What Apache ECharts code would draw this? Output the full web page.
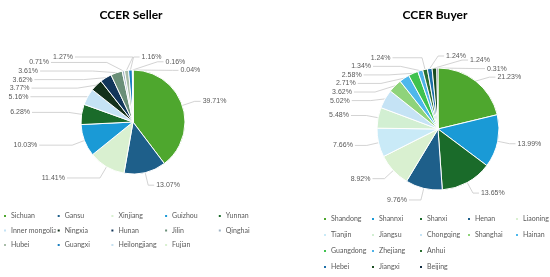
<!DOCTYPE html>
<html><head><meta charset="utf-8">
<script src="https://cdn.jsdelivr.net/npm/echarts@6/dist/echarts.min.js"></script>
<style>html,body{margin:0;padding:0;background:#fff}#c{width:550px;height:277px}</style>
</head><body><div id="c"></div>
<script>
var sellerNames = ['Sichuan','Gansu','Xinjiang','Guizhou','Yunnan','Inner mongolia','Ningxia','Hunan','Jilin','Qinghai','Hubei','Guangxi','Heilongjiang','Fujian'];
var sellerValues = [39.71,13.07,11.41,10.03,6.28,5.16,3.77,3.62,3.61,0.71,1.27,1.16,0.16,0.04];
var sellerColors = ['#4ea72e','#1e5f8a','#d9f0d0','#1a9ad6','#1a6b2a','#c5e3f5','#13301a','#12365a','#6a8f78','#9fb3c4','#a9bda9','#1a7fc0','#c5e0f0','#d9f0d0'];
var buyerNames = ['Shandong','Shannxi','Shanxi','Henan','Liaoning','Tianjin','Jiangsu','Chongqing','Shanghai','Hainan','Guangdong','Zhejiang','Anhui','Hebei','Jiangxi','Beijing'];
var buyerValues = [21.23,13.99,13.65,9.76,8.92,7.66,5.48,5.02,3.62,2.71,2.58,1.34,1.24,1.24,1.24,0.31];
var buyerColors = ['#4ea72e','#1a9ad6','#1a6b2a','#1e5f8a','#d9f0d0','#c9eaf7','#d2efd2','#c5e3f5','#8fd37a','#4db8ec','#3fc24f','#4fb3e8','#2a6f30','#1d6fa8','#1a4d20','#0f2a40'];
var sellerLegendCols = 5;
var buyerRows = [[0,5],[5,10],[10,13],[13,16]];

var FONT = 'Lato';
var LABEL_FONT = 'Liberation Sans';
var SELLER = {center:[133,122], r:52, off:13, Lleft:33, Lup:25, Lright:6};
var BUYER = {center:[438,129], r:61, off:12, Lleft:12, Lup:18, Lright:6};

function fmt(v){ return v.toFixed(2)+'%'; }
// Excel-like outside label placement: anchor just beyond the rim at each slice's mid angle,
// overlapping labels pushed apart around the rim until their boxes no longer overlap.
function layoutLabels(values, cfg){
  var ctx = document.createElement('canvas').getContext('2d');
  ctx.font = '7px "' + LABEL_FONT + '"';
  var cx = cfg.center[0], cy = cfg.center[1], r = cfg.r, R = r + cfg.off, H = 8.5, GAP = 2, TWO = 2*Math.PI;
  var total = values.reduce(function(a,b){return a+b;},0), cum = 0;
  var items = values.map(function(v,i){
    var th = (cum + v/2)/total*TWO; cum += v;
    return {i:i, th:th, phi:th, w:ctx.measureText(fmt(v)).width};
  });
  function geo(it){
    var s = Math.sin(it.phi), c = Math.cos(it.phi);
    var px = cx + R*s, py = cy - R*c;
    var right = ((it.phi % TWO) + TWO) % TWO < Math.PI;
    var ex = right ? px + cfg.Lright : px - cfg.Lleft - cfg.Lup*Math.max(0, c);
    var x0 = right ? ex + GAP : ex - GAP - it.w;
    return {px:px, py:py, ex:ex, right:right, x0:x0, x1:x0 + it.w, y0:py - H/2, y1:py + H/2};
  }
  function ov(a,b){ return a.x0 < b.x1 + 4 && b.x0 < a.x1 + 4 && a.y0 < b.y1 && b.y0 < a.y1; }
  var sorted = items.slice().sort(function(a,b){return a.th - b.th;});
  for (var iter = 0; iter < 4000; iter++){
    var moved = false;
    for (var k = 0; k < sorted.length; k++){
      for (var m = k + 1; m < sorted.length; m++){
        var a = sorted[k], b = sorted[m];
        if (ov(geo(a), geo(b))){
          var dir = (b.th - a.th > Math.PI) ? -1 : 1;
          a.phi -= 0.002*dir; b.phi += 0.002*dir; moved = true;
        }
      }
    }
    if (!moved) break;
  }
  return items.map(function(it){
    var g = geo(it);
    var ex0 = cx + r*Math.sin(it.th), ey0 = cy - r*Math.cos(it.th);
    return {x: g.right ? g.ex + GAP : g.ex - GAP, y: g.py, align: g.right ? 'left' : 'right',
      pts: [[ex0, ey0], [g.px, g.py], [g.ex, g.py]]};
  });
}
var labelPos = [layoutLabels(sellerValues, SELLER), layoutLabels(buyerValues, BUYER)];

function mkData(names, values, colors){
  return names.map(function(n,i){ return {name:n, value:values[i], itemStyle:{color:colors[i]}}; });
}
function legendItem(name, left, top){
  return {left:left, top:top, itemWidth:4, itemHeight:4, icon:'rect', padding:0, data:[name],
    textStyle:{fontFamily:FONT, fontSize:7, color:'#595959', padding:[0,0,0,-1], overflow:'none'}};
}
var legends = [];
sellerNames.forEach(function(n,i){
  var row = Math.floor(i/sellerLegendCols), col = i%sellerLegendCols;
  legends.push(legendItem(n, 2 + col*53.7, 212.5 + row*14.5));
});
buyerRows.forEach(function(r,row){
  buyerNames.slice(r[0], r[1]).forEach(function(n,col){
    legends.push(legendItem(n, 322 + col*48, 215.5 + row*16));
  });
});
function pieSeries(name, data, cfg){
  return {type:'pie', name:name, center:cfg.center, radius:cfg.r, startAngle:90, clockwise:true,
    data:data, animation:false, avoidLabelOverlap:false,
    itemStyle:{borderColor:'#fff', borderWidth:1},
    label:{show:true, position:'outside', fontFamily:LABEL_FONT, fontSize:7, color:'#595959', overflow:'none',
      formatter:function(p){return fmt(p.value);}},
    labelLine:{show:true, length:10, length2:10, lineStyle:{color:'#c8c8c8', width:0.8}},
    labelLayout:function(p){
      var L = labelPos[p.seriesIndex][p.dataIndex];
      return {x:L.x, y:L.y, align:L.align, verticalAlign:'middle', labelLinePoints:L.pts};
    },
    emphasis:{disabled:true}};
}
var chart = echarts.init(document.getElementById('c'), null, {renderer:'canvas'});
chart.setOption({
  backgroundColor:'#fff',
  animation:false,
  title:[
    {text:'CCER Seller', left:126, top:4, textAlign:'center', textStyle:{fontFamily:FONT, fontWeight:'bold', fontSize:12, color:'#000'}},
    {text:'CCER Buyer', left:430, top:4, textAlign:'center', textStyle:{fontFamily:FONT, fontWeight:'bold', fontSize:12, color:'#000'}}
  ],
  legend: legends,
  series:[
    pieSeries('Seller', mkData(sellerNames, sellerValues, sellerColors), SELLER),
    pieSeries('Buyer', mkData(buyerNames, buyerValues, buyerColors), BUYER)
  ]
});
</script></body></html>
